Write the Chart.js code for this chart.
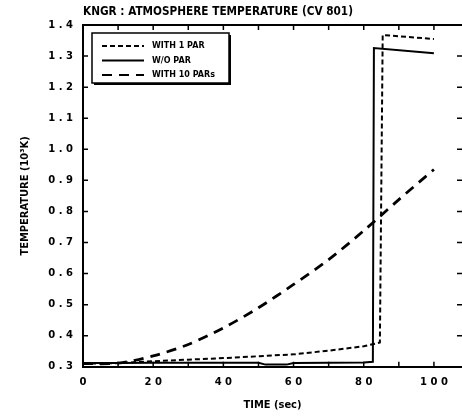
<!DOCTYPE html>
<html>
<head>
<meta charset="utf-8">
<script src="https://cdn.jsdelivr.net/npm/chart.js@4.4.0/dist/chart.umd.min.js"></script>
<style>
  html, body { margin: 0; padding: 0; background: #fff; }
  #wrap { width: 462px; height: 419px; }
</style>
</head>
<body>
<div id="wrap"><canvas id="canvas"></canvas></div>
<script>
// series (time in sec, temperature in 10^3 K)
const timeWith1 = [0, 10, 20, 30, 40, 50, 60, 70, 80, 84.6, 85.4, 100];
const tempWith1 = [0.31, 0.312, 0.318, 0.323, 0.328, 0.334, 0.34, 0.352, 0.366, 0.378, 1.368, 1.355];

const timeWithout = [0, 10, 20, 30, 40, 50, 52, 58, 60, 70, 80, 82.6, 82.9, 100];
const tempWithout = [0.312, 0.312, 0.313, 0.313, 0.313, 0.313, 0.307, 0.307, 0.312, 0.313, 0.314, 0.316, 1.326, 1.309];

const timeWith10 = [0, 10, 20, 30, 40, 50, 60, 70, 80, 90, 100];
const tempWith10 = [0.31, 0.312, 0.335, 0.372, 0.425, 0.49, 0.565, 0.645, 0.738, 0.838, 0.935];

const seriesNames = ['WITH 1 PAR', 'W/O PAR', 'WITH 10 PARs'];
const chartTitle = 'KNGR : ATMOSPHERE TEMPERATURE (CV 801)';
const xTitle = 'TIME (sec)';
const yTitle = 'TEMPERATURE (10\u00B3K)';

function toPoints(xs, ys) {
  return xs.map(function (x, i) { return { x: x, y: ys[i] }; });
}

function spaced(v) {
  return v.split('').join(' ');
}

const data = {
  datasets: [
    {
      label: seriesNames[0],
      data: toPoints(timeWith1, tempWith1),
      borderColor: '#000',
      borderWidth: 2,
      borderDash: [5, 3],
      pointRadius: 0,
      fill: false,
      tension: 0,
    },
    {
      label: seriesNames[1],
      data: toPoints(timeWithout, tempWithout),
      borderColor: '#000',
      borderWidth: 2,
      pointRadius: 0,
      fill: false,
      tension: 0,
    },
    {
      label: seriesNames[2],
      data: toPoints(timeWith10, tempWith10),
      borderColor: '#000',
      borderWidth: 2.8,
      borderDash: [10, 7],
      pointRadius: 0,
      fill: false,
      tension: 0.3,
    },
  ],
};

// frame, inward ticks, title and boxed legend
const framePlugin = {
  id: 'frame',
  afterDraw: function (chart) {
    const ctx = chart.ctx;
    const a = chart.chartArea;
    const xs = chart.scales.x;
    const ys = chart.scales.y;
    ctx.save();
    ctx.strokeStyle = '#000';
    ctx.lineWidth = 2;
    ctx.beginPath();
    ctx.moveTo(a.left, a.top);
    ctx.lineTo(a.right, a.top);
    ctx.stroke();

    ctx.lineWidth = 1.5;
    xs.ticks.forEach(function (t) {
      if (t.value % 10 !== 0) return;
      const px = xs.getPixelForValue(t.value);
      ctx.beginPath();
      ctx.moveTo(px, a.bottom); ctx.lineTo(px, a.bottom - 5);
      ctx.moveTo(px, a.top); ctx.lineTo(px, a.top + 5);
      ctx.stroke();
    });
    ys.ticks.forEach(function (t) {
      const py = ys.getPixelForValue(t.value);
      ctx.beginPath();
      ctx.moveTo(a.left, py); ctx.lineTo(a.left + 5, py);
      ctx.moveTo(a.right, py); ctx.lineTo(a.right - 5, py);
      ctx.stroke();
    });

    // title
    ctx.fillStyle = '#000';
    ctx.font = 'bold 11.7px "DejaVu Sans Condensed", sans-serif';
    ctx.textBaseline = 'middle';
    ctx.textAlign = 'left';
    ctx.fillText(chartTitle, a.left, 12);

    // legend box
    const bx = 92, by = 33, bw = 137, bh = 50;
    ctx.fillStyle = '#fff';
    ctx.fillRect(bx, by, bw, bh);
    ctx.lineWidth = 1.5;
    ctx.strokeRect(bx, by, bw, bh);
    ctx.lineWidth = 2;
    ctx.beginPath();
    ctx.moveTo(bx + bw + 1, by + 2); ctx.lineTo(bx + bw + 1, by + bh + 1); ctx.lineTo(bx + 2, by + bh + 1);
    ctx.stroke();

    ctx.font = 'bold 8px "DejaVu Sans", sans-serif';
    ctx.fillStyle = '#000';
    chart.data.datasets.forEach(function (ds, i) {
      const ry = by + 13 + i * 14.5;
      ctx.save();
      ctx.lineWidth = Math.min(ds.borderWidth, 2);
      ctx.setLineDash(ds.borderDash || []);
      ctx.beginPath();
      ctx.moveTo(bx + 10, ry); ctx.lineTo(bx + 52, ry);
      ctx.stroke();
      ctx.restore();
      ctx.fillText(ds.label, bx + 60, ry);
    });
    ctx.restore();
  },
};

const options = {
  responsive: true,
  maintainAspectRatio: false,
  animation: false,
  layout: { padding: { top: 25, right: 0, left: 0, bottom: 0 } },
  plugins: {
    legend: { display: false },
    tooltip: { enabled: false },
  },
  scales: {
    x: {
      type: 'linear',
      min: 0,
      max: 108,
      grid: { display: false, drawTicks: false },
      border: { display: true, color: '#000', width: 2 },
      ticks: {
        stepSize: 10,
        padding: 10,
        color: '#000',
        font: { family: 'DejaVu Sans', size: 10, weight: 'bold' },
        maxRotation: 0,
        autoSkip: false,
        callback: function (value) {
          if (value % 20 !== 0 || value > 100) return '';
          return spaced(String(value));
        },
      },
      title: {
        display: true,
        text: xTitle,
        color: '#000',
        font: { family: 'DejaVu Sans Condensed', size: 11, weight: 'bold' },
        padding: { top: 0, bottom: 7 },
      },
      afterFit: function (scale) {
        scale.paddingRight = 0;
        scale.paddingLeft = 0;
      },
    },
    y: {
      min: 0.3,
      max: 1.4,
      grid: { display: false, drawTicks: false },
      border: { display: true, color: '#000', width: 2 },
      ticks: {
        stepSize: 0.1,
        padding: 10,
        color: '#000',
        font: { family: 'DejaVu Sans', size: 10, weight: 'bold' },
        callback: function (value) {
          return spaced(value.toFixed(1));
        },
      },
      title: {
        display: true,
        text: yTitle,
        color: '#000',
        font: { family: 'DejaVu Sans Condensed', size: 11, weight: 'bold' },
        padding: { top: 19, bottom: 0 },
      },
      afterFit: function (scale) { scale.width = 83; },
    },
  },
};

const canvas = document.getElementById('canvas');
const chart = new Chart(canvas, {
  type: 'line',
  data: data,
  options: options,
  plugins: [framePlugin],
});
</script>
</body>
</html>
